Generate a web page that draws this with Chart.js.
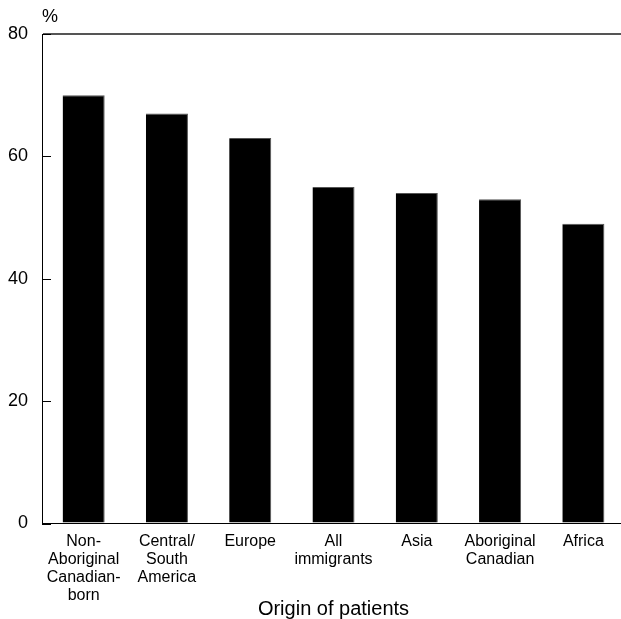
<!DOCTYPE html>
<html>
<head>
<meta charset="utf-8">
<script src="https://cdn.jsdelivr.net/npm/chart.js@4/dist/chart.umd.min.js"></script>
<style>
    html, body { margin: 0; padding: 0; background: #fff; overflow: hidden; }
    #wrap { width: 625px; height: 621px; position: relative; }
</style>
</head>
<body>
<div id="wrap"><canvas id="chart"></canvas></div>
<script>
const categories = [
    ['Non-', 'Aboriginal', 'Canadian-', 'born'],
    ['Central/', 'South', 'America'],
    'Europe',
    ['All', 'immigrants'],
    'Asia',
    ['Aboriginal', 'Canadian'],
    'Africa'
];
const values = [70, 67, 63, 55, 54, 53, 49];
const yTicks = [0, 20, 40, 60, 80];

const FONT = 'Arial, "Liberation Sans", sans-serif';

// % label at the top and inward tick marks on the y axis
const extras = {
    id: 'extras',
    afterDraw(chart) {
        const { ctx, chartArea, scales } = chart;
        const y = scales.y;
        ctx.save();
        ctx.strokeStyle = '#000';
        ctx.lineWidth = 1;
        yTicks.forEach(v => {
            const py = Math.round(y.getPixelForValue(v)) + 0.5;
            ctx.beginPath();
            ctx.moveTo(chartArea.left, py);
            ctx.lineTo(chartArea.left + 9, py);
            ctx.stroke();
        });
        ctx.fillStyle = '#000';
        ctx.font = '18px ' + FONT;
        ctx.textAlign = 'left';
        ctx.textBaseline = 'bottom';
        ctx.fillText('%', chartArea.left, chartArea.top - 8);
        ctx.restore();
    }
};

const ctx = document.getElementById('chart').getContext('2d');
new Chart(ctx, {
    type: 'bar',
    data: {
        labels: categories,
        datasets: [{
            data: values,
            backgroundColor: '#000',
            borderColor: '#555',
            borderWidth: { top: 1, right: 1, left: 0, bottom: 0 },
            categoryPercentage: 1,
            barPercentage: 0.505
        }]
    },
    options: {
        responsive: true,
        maintainAspectRatio: false,
        animation: false,
        layout: { padding: { left: 0, top: 34, right: 0, bottom: 0 } },
        plugins: {
            legend: { display: false },
            tooltip: { enabled: false }
        },
        scales: {
            x: {
                afterFit: axis => { axis.height = 97.5; },
                grid: { display: false, drawTicks: false },
                border: { color: '#000', width: 1 },
                ticks: {
                    color: '#000',
                    autoSkip: false,
                    maxRotation: 0,
                    padding: 9,
                    font: { family: FONT, size: 16, lineHeight: 1.125 }
                },
                title: {
                    display: true,
                    text: 'Origin of patients',
                    color: '#000',
                    font: { family: FONT, size: 20 },
                    padding: { top: 0, bottom: 0 }
                }
            },
            y: {
                min: 0,
                max: 80,
                afterFit: axis => { axis.width = 42; },
                afterBuildTicks: axis => { axis.ticks = yTicks.map(v => ({ value: v })); },
                grid: {
                    drawTicks: false,
                    color: c => c.tick && c.tick.value === 80 ? '#555' : 'rgba(0,0,0,0)',
                    lineWidth: 2
                },
                border: { color: '#000', width: 1 },
                ticks: {
                    color: '#000',
                    padding: 14,
                    font: { family: FONT, size: 18 }
                }
            }
        }
    },
    plugins: [extras]
});
</script>
</body>
</html>
